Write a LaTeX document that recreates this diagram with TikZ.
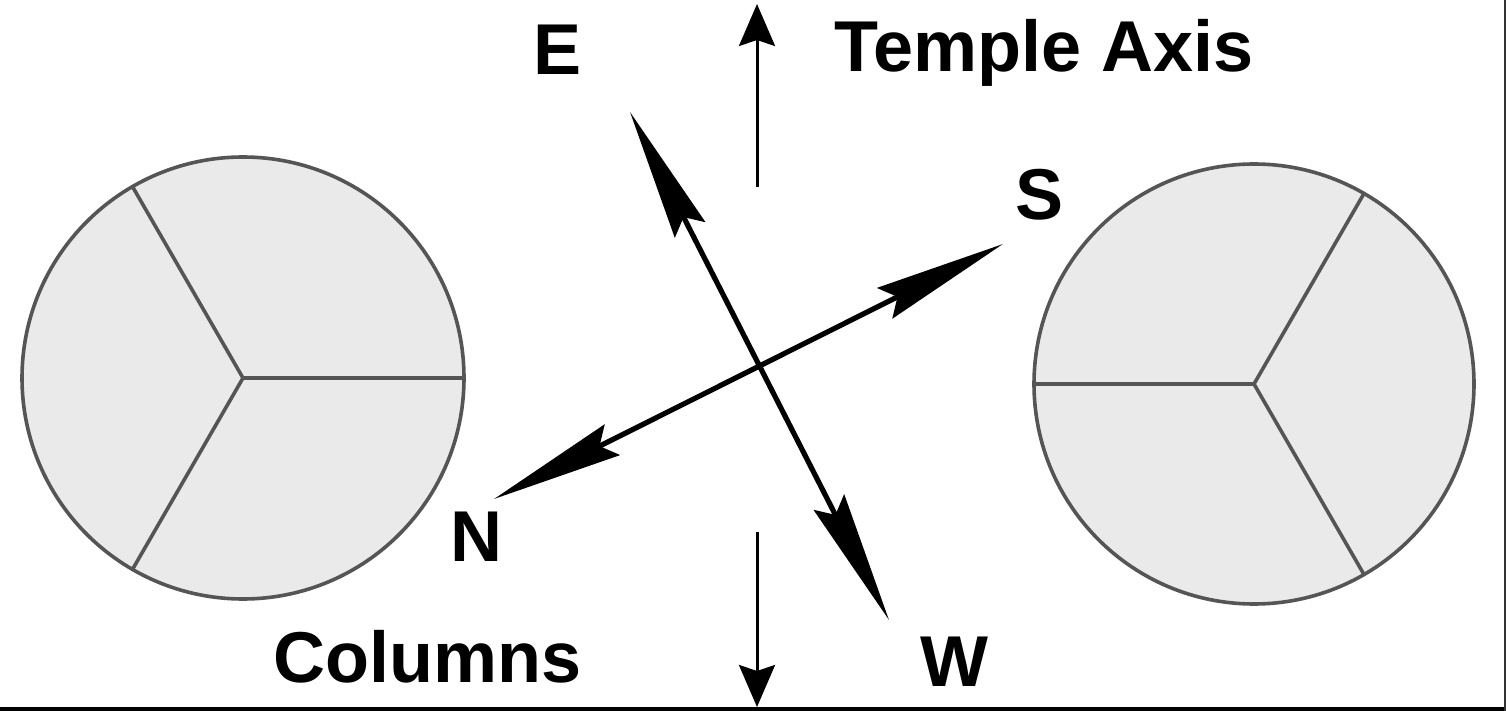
\documentclass[tikz,border=0pt]{standalone}
\usepackage{fontspec}
\setmainfont{Liberation Sans}
\usetikzlibrary{arrows.meta}
\definecolor{rim}{HTML}{555555}
\definecolor{stone}{HTML}{EAEAEA}
\tikzset{
  column/.style={draw=rim, line width=1.8pt, fill=stone},
  spoke/.style={draw=rim, line width=1.8pt},
  compass/.style={line width=2.6pt, {Stealth[length=66pt,width=17pt,inset=7pt]}-{Stealth[length=66pt,width=17pt,inset=7pt]}},
  axisarrow/.style={line width=1.5pt, -{Stealth[length=21pt,width=18pt,inset=3pt]}},
  lbl/.style={font=\bfseries\fontsize{36}{40}\selectfont, inner sep=0pt},
  biglbl/.style={font=\bfseries\fontsize{36}{40}\selectfont, inner sep=0pt, anchor=base west}
}
\begin{document}
\begin{tikzpicture}[x=0.5pt, y=-0.5pt]
\useasboundingbox (0,0) rectangle (1506,711);
\fill[white] (0,0) rectangle (1506,711);
% columns
\coordinate (lc) at (243,378);
\coordinate (rc) at (1254,384);
\draw[column] (lc) circle[radius=221];
\draw[spoke] (lc) -- ++(0:221) (lc) -- ++(-120:221) (lc) -- ++(120:221);
\draw[column] (rc) circle[radius=220];
\draw[spoke] (rc) -- ++(180:220) (rc) -- ++(-60:220) (rc) -- ++(60:220);
% temple axis
\coordinate (at1) at (757,187);
\coordinate (at2) at (757,4);
\coordinate (ab1) at (757,532);
\coordinate (ab2) at (757,707);
\draw[axisarrow] (at1) -- (at2);
\draw[axisarrow] (ab1) -- (ab2);
% compass arrows
\coordinate (e) at (630,112);
\coordinate (w) at (889,620);
\coordinate (s) at (1003,244);
\coordinate (n) at (494,499);
\draw[compass] (e) -- (w);
\draw[compass] (n) -- (s);
% labels
\node[lbl] (E) at (558,50) {E};
\node[lbl] (S) at (1040,195) {S};
\node[lbl] (N) at (476,537) {N};
\node[lbl] (W) at (954,662) {W};
\node[biglbl] (ta) at (834,72) {Temple Axis};
\node[biglbl] (col) at (273,682) {Columns};
% frame edges
\draw[line width=2pt] (0,709) -- (1506,709);
\draw[line width=1pt, black!80] (1505,0) -- (1505,711);
\end{tikzpicture}
\end{document}
